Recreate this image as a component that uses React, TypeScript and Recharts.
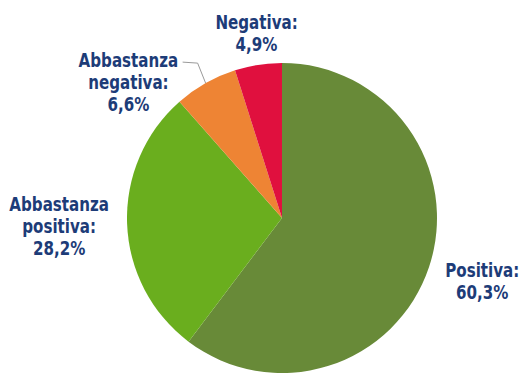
import { PieChart, Pie, Cell } from "recharts";

const categories = ["Positiva", "Abbastanza positiva", "Abbastanza negativa", "Negativa"];
const shares = [60.3, 28.2, 6.6, 4.9];
const COLORS = ["#688a38", "#6aae1e", "#ee8434", "#e0103e"];

// label placement per slice: distance from centre, angle shift, leader line
const LABEL_RADIUS = [210, 223, 205, 187];
const LABEL_SHIFT = [1, 0, 19, -1];
const HAS_LEADER = [false, false, true, false];

const data = categories.map((name, i) => ({ name, value: shares[i] }));

const RAD = Math.PI / 180;
const TEXT_COLOR = "#1d3c78";
const FONT = "'DejaVu Sans Condensed', 'DejaVu Sans', sans-serif";
const SQUEEZE = 0.84;

function formatPercent(v: number): string {
  return `${v.toFixed(1).replace(".", ",")}%`;
}

function renderLabel(props: any) {
  const { cx, cy, midAngle, outerRadius, index, value } = props;
  const angle = midAngle + LABEL_SHIFT[index];
  const r = LABEL_RADIUS[index];
  const x = cx + Math.cos(-angle * RAD) * r;
  const y = cy + Math.sin(-angle * RAD) * r;

  const words = categories[index].split(" ");
  words[words.length - 1] += ":";
  const lines = [...words, formatPercent(value)];
  const lineH = 22;
  const top = y - ((lines.length - 1) * lineH) / 2;

  let leader = null;
  if (HAS_LEADER[index]) {
    const ax = cx + Math.cos(-midAngle * RAD) * outerRadius;
    const ay = cy + Math.sin(-midAngle * RAD) * outerRadius;
    const ex = ax - 8;
    const ey = ay - 20;
    leader = (
      <polyline
        points={`${ax},${ay} ${ex},${ey} ${ex - 15},${ey - 1}`}
        fill="none"
        stroke="#9a9a9a"
        strokeWidth={1}
      />
    );
  }

  return (
    <g key={`label-${index}`}>
      {leader}
      <g transform={`translate(${x},0) scale(${SQUEEZE},1) translate(${-x},0)`}>
        <text
          x={x}
          y={top}
          textAnchor="middle"
          fill={TEXT_COLOR}
          fontFamily={FONT}
          fontWeight="bold"
          fontSize={20}
        >
          {lines.map((line, i) => (
            <tspan key={i} x={x} y={top + i * lineH} dy="0.35em">
              {line}
            </tspan>
          ))}
        </text>
      </g>
    </g>
  );
}

export default function App() {
  return (
    <div style={{ position: "absolute", left: 0, top: 0, width: 523, height: 374, background: "#fff" }}>
      <PieChart width={523} height={374} margin={{ top: 0, right: 0, bottom: 0, left: 0 }}>
        <Pie
          data={data}
          dataKey="value"
          nameKey="name"
          cx={282}
          cy={218}
          outerRadius={155}
          startAngle={90}
          endAngle={-270}
          stroke="none"
          labelLine={false}
          label={renderLabel}
          isAnimationActive={false}
        >
          {data.map((_entry, index) => (
            <Cell key={`cell-${index}`} fill={COLORS[index % COLORS.length]} />
          ))}
        </Pie>
      </PieChart>
    </div>
  );
}
